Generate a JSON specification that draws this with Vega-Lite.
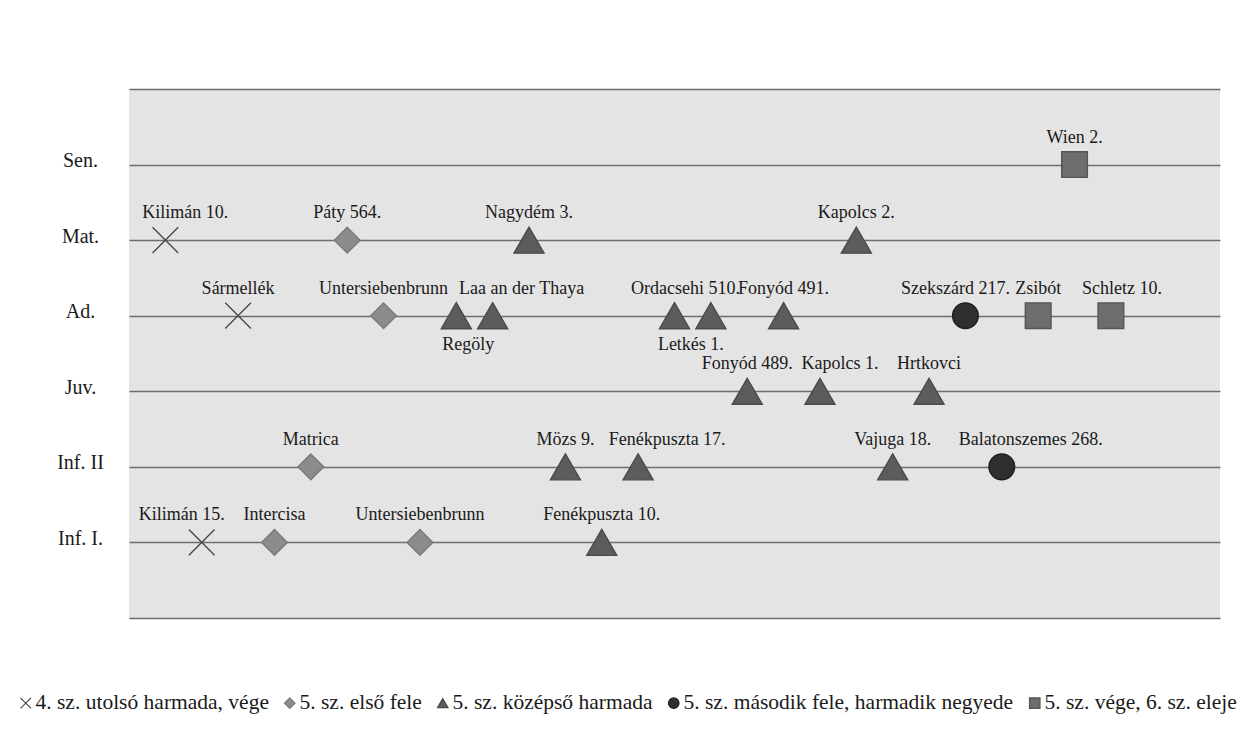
{
  "$schema": "https://vega.github.io/schema/vega-lite/v6.json",
  "width": 1091,
  "height": 529,
  "autosize": {"type": "none"},
  "padding": {"left": 129, "top": 89, "right": 23, "bottom": 133},
  "background": "white",
  "config": {
    "font": "Liberation Serif",
    "view": {"fill": "#e4e4e4", "stroke": null},
    "legend": {
      "labelFont": "Liberation Serif",
      "labelFontSize": 21.5,
      "labelColor": "#1a1a1a",
      "labelOffset": -1,
      "columnPadding": 10,
      "symbolSize": 110,
      "symbolStrokeWidth": 1.2,
      "labelLimit": 500
    }
  },
  "data": {
    "values": [
      {"name": "Wien 2.", "age": "Sen.", "pos": 26, "type": "5. sz. vége, 6. sz. eleje"},
      {"name": "Kilimán 10.", "age": "Mat.", "pos": 1, "type": "4. sz. utolsó harmada, vége"},
      {"name": "Páty 564.", "age": "Mat.", "pos": 6, "type": "5. sz. első fele"},
      {"name": "Nagydém 3.", "age": "Mat.", "pos": 11, "type": "5. sz. középső harmada"},
      {"name": "Kapolcs 2.", "age": "Mat.", "pos": 20, "type": "5. sz. középső harmada"},
      {"name": "Sármellék", "age": "Ad.", "pos": 3, "type": "4. sz. utolsó harmada, vége"},
      {"name": "Untersiebenbrunn", "age": "Ad.", "pos": 7, "type": "5. sz. első fele"},
      {"name": "Regöly", "age": "Ad.", "pos": 9, "type": "5. sz. középső harmada"},
      {"name": "Laa an der Thaya", "age": "Ad.", "pos": 10, "type": "5. sz. középső harmada"},
      {"name": "Ordacsehi 510.", "age": "Ad.", "pos": 15, "type": "5. sz. középső harmada"},
      {"name": "Letkés 1.", "age": "Ad.", "pos": 16, "type": "5. sz. középső harmada"},
      {"name": "Fonyód 491.", "age": "Ad.", "pos": 18, "type": "5. sz. középső harmada"},
      {"name": "Szekszárd 217.", "age": "Ad.", "pos": 23, "type": "5. sz. második fele, harmadik negyede"},
      {"name": "Zsibót", "age": "Ad.", "pos": 25, "type": "5. sz. vége, 6. sz. eleje"},
      {"name": "Schletz 10.", "age": "Ad.", "pos": 27, "type": "5. sz. vége, 6. sz. eleje"},
      {"name": "Fonyód 489.", "age": "Juv.", "pos": 17, "type": "5. sz. középső harmada"},
      {"name": "Kapolcs 1.", "age": "Juv.", "pos": 19, "type": "5. sz. középső harmada"},
      {"name": "Hrtkovci", "age": "Juv.", "pos": 22, "type": "5. sz. középső harmada"},
      {"name": "Matrica", "age": "Inf. II", "pos": 5, "type": "5. sz. első fele"},
      {"name": "Mözs 9.", "age": "Inf. II", "pos": 12, "type": "5. sz. középső harmada"},
      {"name": "Fenékpuszta 17.", "age": "Inf. II", "pos": 14, "type": "5. sz. középső harmada"},
      {"name": "Vajuga 18.", "age": "Inf. II", "pos": 21, "type": "5. sz. középső harmada"},
      {"name": "Balatonszemes 268.", "age": "Inf. II", "pos": 24, "type": "5. sz. második fele, harmadik negyede"},
      {"name": "Kilimán 15.", "age": "Inf. I.", "pos": 2, "type": "4. sz. utolsó harmada, vége"},
      {"name": "Intercisa", "age": "Inf. I.", "pos": 4, "type": "5. sz. első fele"},
      {"name": "Untersiebenbrunn", "age": "Inf. I.", "pos": 8, "type": "5. sz. első fele"},
      {"name": "Fenékpuszta 10.", "age": "Inf. I.", "pos": 13, "type": "5. sz. középső harmada"}
    ]
  },
  "encoding": {
    "x": {"field": "pos", "type": "quantitative", "scale": {"domain": [0, 30], "nice": false, "zero": false}, "axis": null},
    "y": {
      "field": "age",
      "type": "ordinal",
      "scale": {"type": "point", "domain": ["top", "Sen.", "Mat.", "Ad.", "Juv.", "Inf. II", "Inf. I.", "bottom"], "padding": 0},
      "axis": {
        "title": null,
        "domain": false,
        "ticks": false,
        "tickSize": 0,
        "grid": true,
        "gridColor": "#6e6e6e",
        "gridWidth": 1.5,
        "labelExpr": "datum.value == 'top' || datum.value == 'bottom' ? '' : datum.value",
        "labelAlign": "center",
        "labelPadding": 49,
        "labelOffset": -4,
        "labelFont": "Liberation Serif",
        "labelFontSize": 20,
        "labelColor": "#1a1a1a"
      }
    },
    "shape": {
      "field": "type", "type": "nominal", "title": null,
      "scale": {
        "domain": ["4. sz. utolsó harmada, vége", "5. sz. első fele", "5. sz. középső harmada", "5. sz. második fele, harmadik negyede", "5. sz. vége, 6. sz. eleje"],
        "range": ["M-1,-1L1,1M-1,1L1,-1", "diamond", "triangle-up", "circle", "square"]
      },
      "legend": {"orient": "none", "direction": "horizontal", "legendX": -114, "legendY": 603, "columns": 5}
    },
    "color": {
      "field": "type", "type": "nominal", "title": null,
      "scale": {
        "domain": ["4. sz. utolsó harmada, vége", "5. sz. első fele", "5. sz. középső harmada", "5. sz. második fele, harmadik negyede", "5. sz. vége, 6. sz. eleje"],
        "range": ["#555555", "#8c8c8c", "#5c5c5c", "#2f2f2f", "#6d6d6d"]
      },
      "legend": {"orient": "none", "direction": "horizontal", "legendX": -114, "legendY": 603, "columns": 5}
    },
    "stroke": {
      "field": "type", "type": "nominal", "title": null,
      "scale": {
        "domain": ["4. sz. utolsó harmada, vége", "5. sz. első fele", "5. sz. középső harmada", "5. sz. második fele, harmadik negyede", "5. sz. vége, 6. sz. eleje"],
        "range": ["#4a4a4a", "#7a7a7a", "#4a4a4a", "#1e1e1e", "#555555"]
      },
      "legend": {"orient": "none", "direction": "horizontal", "legendX": -114, "legendY": 603, "columns": 5}
    }
  },
  "layer": [
    {
      "transform": [{"filter": "datum.type != '5. sz. középső harmada'"}],
      "mark": {"type": "point", "filled": true, "opacity": 1, "strokeWidth": 1.4, "size": 660}
    },
    {
      "transform": [{"filter": "datum.type == '5. sz. középső harmada'"}],
      "mark": {"type": "point", "filled": true, "opacity": 1, "strokeWidth": 1.4, "size": 900}
    },
    {
      "transform": [{"filter": "indexof(['Laa an der Thaya','Fenékpuszta 17.','Balatonszemes 268.','Kilimán 10.','Kapolcs 1.','Kilimán 15.','Ordacsehi 510.','Schletz 10.','Szekszárd 217.','Regöly','Letkés 1.'], datum.name) < 0"}],
      "mark": {"type": "text", "font": "Liberation Serif", "fontSize": 18, "color": "#1a1a1a", "dy": -27},
      "encoding": {"text": {"field": "name"}, "shape": null, "color": null, "stroke": null}
    },
    {
      "transform": [{"filter": {"field": "name", "oneOf": ["Laa an der Thaya", "Fenékpuszta 17.", "Balatonszemes 268."]}}],
      "mark": {"type": "text", "font": "Liberation Serif", "fontSize": 18, "color": "#1a1a1a", "dy": -27, "dx": 29},
      "encoding": {"text": {"field": "name"}, "shape": null, "color": null, "stroke": null}
    },
    {
      "transform": [{"filter": {"field": "name", "oneOf": ["Kilimán 10.", "Kapolcs 1."]}}],
      "mark": {"type": "text", "font": "Liberation Serif", "fontSize": 18, "color": "#1a1a1a", "dy": -27, "dx": 20},
      "encoding": {"text": {"field": "name"}, "shape": null, "color": null, "stroke": null}
    },
    {
      "transform": [{"filter": {"field": "name", "oneOf": ["Ordacsehi 510.", "Schletz 10."]}}],
      "mark": {"type": "text", "font": "Liberation Serif", "fontSize": 18, "color": "#1a1a1a", "dy": -27, "dx": 11},
      "encoding": {"text": {"field": "name"}, "shape": null, "color": null, "stroke": null}
    },
    {
      "transform": [{"filter": {"field": "name", "oneOf": ["Szekszárd 217."]}}],
      "mark": {"type": "text", "font": "Liberation Serif", "fontSize": 18, "color": "#1a1a1a", "dy": -27, "dx": -10},
      "encoding": {"text": {"field": "name"}, "shape": null, "color": null, "stroke": null}
    },
    {
      "transform": [{"filter": {"field": "name", "oneOf": ["Kilimán 15."]}}],
      "mark": {"type": "text", "font": "Liberation Serif", "fontSize": 18, "color": "#1a1a1a", "dy": -27, "dx": -20},
      "encoding": {"text": {"field": "name"}, "shape": null, "color": null, "stroke": null}
    },
    {
      "transform": [{"filter": {"field": "name", "oneOf": ["Regöly"]}}],
      "mark": {"type": "text", "font": "Liberation Serif", "fontSize": 18, "color": "#1a1a1a", "dy": 29, "dx": 12},
      "encoding": {"text": {"field": "name"}, "shape": null, "color": null, "stroke": null}
    },
    {
      "transform": [{"filter": {"field": "name", "oneOf": ["Letkés 1."]}}],
      "mark": {"type": "text", "font": "Liberation Serif", "fontSize": 18, "color": "#1a1a1a", "dy": 29, "dx": -20},
      "encoding": {"text": {"field": "name"}, "shape": null, "color": null, "stroke": null}
    }
  ]
}
